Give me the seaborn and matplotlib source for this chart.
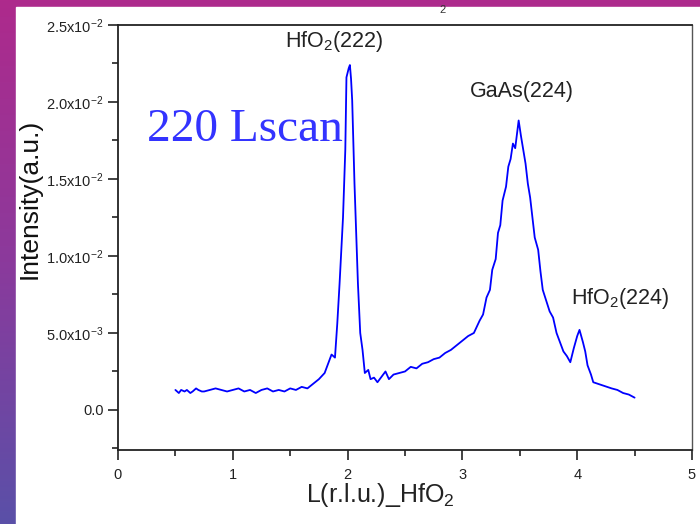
import numpy as np
import pandas as pd
import matplotlib
matplotlib.use("Agg")
import matplotlib.pyplot as plt
from matplotlib.patches import Rectangle
from matplotlib.ticker import MultipleLocator, FuncFormatter
from matplotlib.colors import LinearSegmentedColormap
import seaborn as sns

# ---- data ----
L_values = [0.50, 0.53, 0.55, 0.58, 0.60, 0.63, 0.65, 0.68, 0.70, 0.73,
            0.75, 0.80, 0.85, 0.90, 0.95, 1.00, 1.05, 1.10, 1.15, 1.20,
            1.25, 1.30, 1.35, 1.40, 1.45, 1.50, 1.55, 1.60, 1.65, 1.70,
            1.75, 1.80, 1.83, 1.86, 1.89, 1.91, 1.93, 1.96, 1.98, 1.99,
            2.01, 2.02, 2.03, 2.04, 2.06, 2.09, 2.11, 2.13, 2.15, 2.18,
            2.20, 2.23, 2.26, 2.30, 2.33, 2.36, 2.40, 2.45, 2.50, 2.55,
            2.60, 2.65, 2.70, 2.75, 2.80, 2.85, 2.90, 2.95, 3.00, 3.05,
            3.10, 3.15, 3.18, 3.21, 3.24, 3.26, 3.29, 3.31, 3.33, 3.35,
            3.38, 3.40, 3.42, 3.44, 3.46, 3.48, 3.49, 3.51, 3.53, 3.55,
            3.57, 3.59, 3.61, 3.63, 3.66, 3.68, 3.70, 3.73, 3.76, 3.79,
            3.82, 3.85, 3.88, 3.91, 3.94, 3.97, 4.00, 4.02, 4.05, 4.07,
            4.09, 4.12, 4.14, 4.18, 4.22, 4.26, 4.30, 4.35, 4.40, 4.45,
            4.50]
intensity_e3 = [1.3, 1.1, 1.3, 1.2, 1.3, 1.1, 1.2, 1.4, 1.3, 1.2,
                1.2, 1.3, 1.4, 1.3, 1.2, 1.3, 1.4, 1.2, 1.3, 1.1,
                1.3, 1.4, 1.2, 1.3, 1.2, 1.4, 1.3, 1.5, 1.4, 1.7,
                2.0, 2.4, 3.0, 3.6, 3.4, 5.6, 8.2, 12.5, 16.9, 21.6,
                22.2, 22.4, 21.5, 20.1, 14.7, 8.2, 5.0, 3.9, 2.4, 2.6,
                2.0, 2.1, 1.8, 2.2, 2.5, 2.0, 2.3, 2.4, 2.5, 2.8,
                2.7, 3.0, 3.1, 3.3, 3.4, 3.7, 3.9, 4.2, 4.5, 4.8,
                5.0, 5.8, 6.2, 7.3, 7.8, 9.1, 9.8, 11.5, 12.0, 13.6,
                14.5, 15.8, 16.3, 17.3, 17.0, 18.2, 18.8, 17.8, 16.9, 16.0,
                14.7, 13.8, 12.5, 11.2, 10.4, 9.0, 7.8, 7.1, 6.4, 6.0,
                5.0, 4.4, 3.8, 3.5, 3.1, 4.0, 4.8, 5.2, 4.4, 3.8,
                2.9, 2.3, 1.8, 1.7, 1.6, 1.5, 1.4, 1.3, 1.1, 1.0,
                0.8]
intensity = [v * 1e-3 for v in intensity_e3]

peak_labels = [r"HfO$_2$(222)", "GaAs(224)", r"HfO$_2$(224)"]
peak_label_L = [1.88, 3.52, 4.37]
peak_label_I = [0.0239, 0.02065, 0.00727]

y_tick_labels = {0.0: "0.0",
                 0.005: r"5.0x10$^{-3}$",
                 0.010: r"1.0x10$^{-2}$",
                 0.015: r"1.5x10$^{-2}$",
                 0.020: r"2.0x10$^{-2}$",
                 0.025: r"2.5x10$^{-2}$"}

df = pd.DataFrame({"L": L_values, "I": intensity})

# ---- style ----
sns.set_style("ticks")
plt.rcParams["font.family"] = ["Liberation Sans", "DejaVu Sans"]
plt.rcParams["mathtext.fontset"] = "custom"
plt.rcParams["mathtext.rm"] = "Liberation Sans"
plt.rcParams["mathtext.it"] = "Liberation Sans"
plt.rcParams["mathtext.default"] = "regular"

W, H = 700, 524
fig = plt.figure(figsize=(W / 100, H / 100), dpi=100)

# background gradient (slide)
bg = fig.add_axes([0, 0, 1, 1], zorder=-10)
cmap = LinearSegmentedColormap.from_list("slide", ["#AE2A8C", "#8B3A9C", "#5A50A8"])
grad = np.linspace(0, 1, 256).reshape(-1, 1)
bg.imshow(grad, aspect="auto", cmap=cmap, extent=[0, 1, 0, 1], origin="upper")
bg.add_patch(Rectangle((16 / W, 0), 1 - 16 / W, (H - 7) / H, color="white",
                       transform=bg.transAxes, zorder=2))
bg.set_axis_off()

ax = fig.add_axes([118 / W, (H - 450) / H, (692 - 118) / W, (450 - 25) / H])
ax.set_facecolor("white")
sns.lineplot(data=df, x="L", y="I", ax=ax, color="#0000FF", linewidth=1.3,
             estimator=None, sort=False)

ax.set_xlim(0, 5)
ax.set_ylim(-0.0026, 0.025)
ax.xaxis.set_major_locator(MultipleLocator(1))
ax.xaxis.set_minor_locator(MultipleLocator(0.5))
ax.yaxis.set_major_locator(MultipleLocator(0.005))
ax.yaxis.set_minor_locator(MultipleLocator(0.0025))
ax.yaxis.set_major_formatter(FuncFormatter(
    lambda v, p: y_tick_labels.get(round(v, 4), "")))
ax.tick_params(axis="both", which="major", direction="out", length=7,
               width=1.2, color="#222222", labelsize=10.5, labelcolor="#222222")
ax.tick_params(axis="both", which="minor", direction="out", length=4,
               width=1.2, color="#222222")
ax.tick_params(axis="x", pad=6)
for side in ["left", "bottom", "top"]:
    ax.spines[side].set_color("#222222")
    ax.spines[side].set_linewidth(1.3)
ax.spines["right"].set_color("#555555")
ax.spines["right"].set_linewidth(1.0)
ax.set_xlabel("")
ax.set_ylabel("")

fig.text(380 / W, 1 - 495 / H, r"L(r.l.u.)_HfO$_2$", ha="center", va="center",
         fontsize=18, color="#222222")
fig.text(30 / W, 1 - 199 / H, "Intensity(a.u.)", ha="center", va="center",
         rotation=90, fontsize=19, color="#111111")
fig.text(443 / W, 1 - 10 / H, "2", ha="center", va="center", fontsize=8,
         color="#333333")

for lab, lx, ly in zip(peak_labels, peak_label_L, peak_label_I):
    ax.text(lx, ly, lab, ha="center", va="center", fontsize=15.5, color="#222222")

ax.text(0.25, 0.01818, "220 Lscan", ha="left", va="center", fontsize=34,
        color="#3333FF", family=["Liberation Serif", "DejaVu Serif"])

fig.savefig("out.png", dpi=100, facecolor=fig.get_facecolor())
